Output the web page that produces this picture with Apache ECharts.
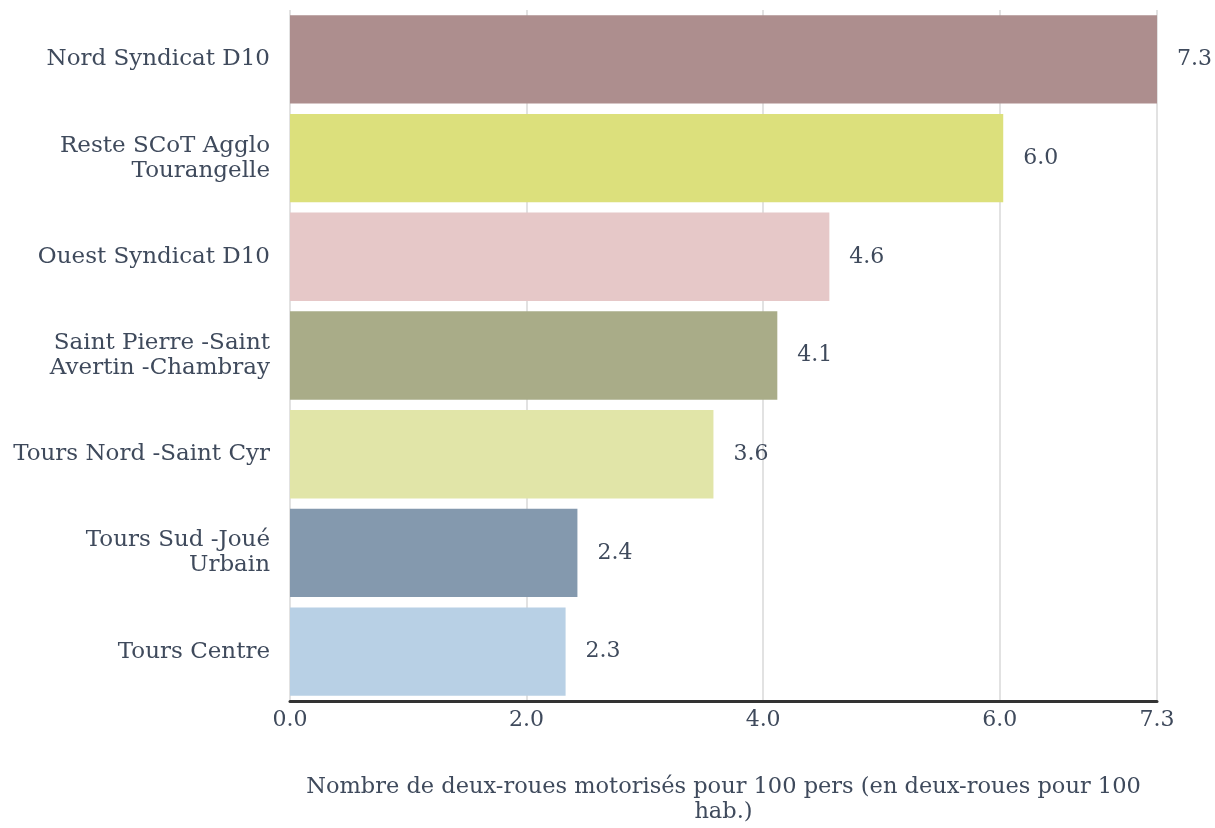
<!DOCTYPE html>
<html><head><meta charset="utf-8">
<script src="https://cdn.jsdelivr.net/npm/echarts@6/dist/echarts.min.js"></script>
<style>html,body{margin:0;padding:0;background:#fff}#c{width:1215px;height:828px}</style>
</head><body><div id="c"></div>
<script>
const categories = ["Nord Syndicat D10", "Reste SCoT Agglo\nTourangelle", "Ouest Syndicat D10", "Saint Pierre -Saint\nAvertin -Chambray", "Tours Nord -Saint Cyr", "Tours Sud -Joué\nUrbain", "Tours Centre"];
const values = [7.33, 6.03, 4.56, 4.12, 3.58, 2.43, 2.33];
const colors = ["#ad8e8e", "#dce07c", "#e6c8c8", "#a9ac88", "#e1e5a8", "#8499ae", "#b8d0e5"];
const axisName = "Nombre de deux-roues motorisés pour 100 pers (en deux-roues pour 100\nhab.)";

const font = "'DejaVu Serif', serif";
const txt = "#3f4a5c";
const chart = echarts.init(document.getElementById('c'));
chart.setOption({
  animation: false,
  grid: {left: 290, right: 58, top: 10, bottom: 127, outerBoundsMode: 'none', containLabel: false},
  xAxis: {
    type: 'value', min: 0, max: 7.33, interval: 2,
    axisLine: {show: true, lineStyle: {color: '#333', width: 3}},
    axisTick: {show: false},
    splitLine: {show: true, lineStyle: {color: '#e2e2e2', width: 2}},
    axisLabel: {fontFamily: font, fontSize: 22, color: txt, margin: 8, showMaxLabel: true,
      formatter: v => v.toFixed(1)},
    name: axisName, nameLocation: 'middle', nameGap: 74,
    nameTextStyle: {fontFamily: font, fontSize: 22.5, color: txt, lineHeight: 25}
  },
  yAxis: {
    type: 'category', data: categories, inverse: true,
    axisLine: {show: false}, axisTick: {show: false},
    axisLabel: {fontFamily: font, fontSize: 23, color: txt, margin: 20, lineHeight: 25}
  },
  series: [{
    type: 'bar', barCategoryGap: '10.5%',
    data: values.map((v, i) => ({value: v, itemStyle: {color: colors[i]}})),
    label: {show: true, position: 'right', distance: 20, fontFamily: font, fontSize: 22, color: txt,
      formatter: p => p.value.toFixed(1)}
  }]
});
</script></body></html>
